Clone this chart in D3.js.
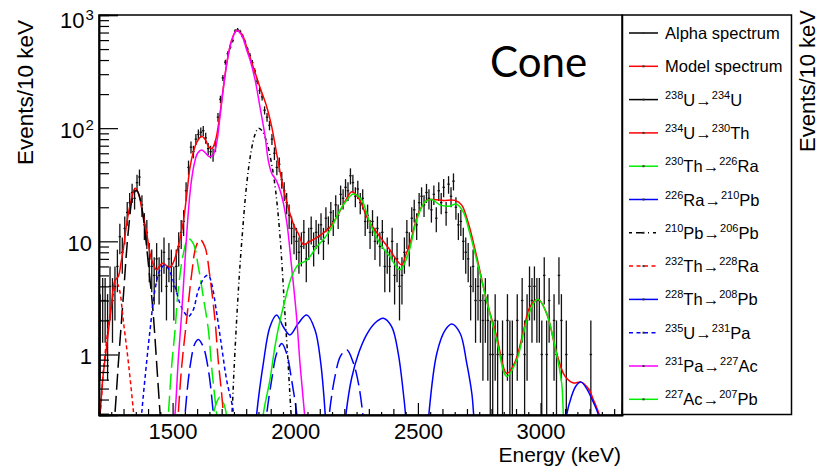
<!DOCTYPE html>
<html>
<head>
<meta charset="utf-8">
<script src="https://cdn.jsdelivr.net/npm/d3@7"></script>
<style>
  html, body { margin: 0; padding: 0; background: #fff; }
  svg { display: block; font-family: "Liberation Sans", Arial, sans-serif; }
</style>
</head>
<body>
<svg id="chart" width="820" height="471"></svg>
<script>
// ---- Measured alpha spectrum: counts per 10 keV bin, first bin starts at 1200 keV ----
const binStart = 1200;
const binWidth = 10;
const counts = [
  2, 3, 3, 2, 4, 3, 4, 6, 11, 8,          // 1200
  13, 18, 22, 27, 24, 33, 37, 21, 14, 12,  // 1300
  7, 6, 5, 7, 5, 6, 8, 4, 7, 6,            // 1400
  4, 6, 9, 12, 15, 28, 45, 68, 62, 80,     // 1500
  88, 92, 95, 82, 66, 62, 58, 70, 125, 180,       // 1600
  278, 383, 456, 520, 595, 720, 740, 715, 650, 580, // 1700
  500, 440, 380, 320, 260, 215, 189, 144, 125, 106, // 1800
  80, 60, 45, 48, 35, 28, 22, 17, 13, 11,  // 1900
  10, 8, 9, 12, 7, 10, 13, 9, 12, 11,      // 2000
  14, 10, 16, 13, 18, 15, 21, 17, 26, 24,  // 2100
  30, 28, 38, 33, 25, 29, 22, 24, 15, 17,  // 2200
  12, 15, 10, 13, 9, 12, 6, 8, 6, 10,      // 2300
  5, 7, 4, 5, 8, 12, 9, 16, 19, 14,        // 2400
  22, 25, 21, 27, 24, 19, 26, 16, 28, 22,  // 2500
  30, 18, 32, 25, 34, 20, 14, 15, 10, 8,   // 2600
  7, 4, 6, 3, 4, 3, 2, 3, 2, 1,            // 2700
  1, 2, 1, 0, 1, 0, 2, 1, 1, 0,            // 2800
  2, 0, 3, 1, 2, 4, 3, 4, 3, 3,            // 2900
  1, 5, 1, 3, 0, 2, 1, 5, 2, 0,            // 3000
  1, 0, 0, 0, 0, 0, 0, 0, 0, 0,            // 3100
  1, 0, 0, 0, 0, 0, 0, 0, 0, 0             // 3200
];

// ---- Fitted model: [energy keV, events / 10 keV] ----
const modelTotal = [[1196,0.2],[1204,0.29],[1215,0.6],[1231,1.17],[1248,2.4],[1265,4.5],[1279,4.9],[1290,6.5],
  [1299,8.5],[1310,13],[1320,17.7],[1333,24],[1347,29.5],[1360,27],[1375,19],[1394,12],[1405,8.5],[1415,6.8],
  [1435,5.6],[1450,6.2],[1461,6.4],[1475,6.1],[1489,5.9],[1503,6.5],[1516,7.9],[1530,10.5],[1544,15],[1557,25],
  [1571,45],[1585,62],[1600,76],[1619,85],[1635,78],[1648,68],[1660,66],[1675,78],[1693,133],[1707,230],[1723,400],
  [1741,600],[1761,730],[1782,680],[1802,520],[1829,346],[1856,230],[1884,154],[1904,103],[1924,60],[1951,30],
  [1978,17.7],[2000,13],[2012,11.8],[2033,9.4],[2060,10],[2101,11.3],[2142,13.4],[2182,18.5],[2210,24],[2230,27.4],
  [2250,25.5],[2264,23],[2298,15.4],[2345,11],[2386,8.4],[2410,7],[2434,6.2],[2450,7.5],[2468,9.6],[2502,17.7],
  [2536,23],[2563,23.4],[2604,23],[2651,23],[2678,21],[2706,14.4],[2740,7.3],[2780,3.0],[2821,1.45],[2862,0.68],
  [2895,0.85],[2930,1.6],[2957,2.64],[2991,3.07],[3025,2.3],[3066,1.02],[3100,0.64],[3134,0.56],[3165,0.57],
  [3195,0.5],[3215,0.4],[3240,0.29],[3255,0.2]];

const u238 = [[[1258,0.2],[1265,0.3],[1279,0.84],[1299,3.2],[1320,12.6],[1340,26],[1353,28.3],[1367,24],
  [1381,16],[1401,6.4],[1421,2.3],[1435,0.84],[1449,0.3],[1455,0.2]]];
const u234 = [[[1517,0.2],[1523,0.3],[1537,0.78],[1557,2.0],[1578,5.2],[1595,8.9],[1612,10.4],[1632,8.9],
  [1652,4.9],[1673,2.0],[1686,0.89],[1700,0.45],[1707,0.3],[1713,0.2]]];
const th230 = [
  [[1477,0.2],[1483,0.3],[1496,0.78],[1510,1.64],[1523,3.7],[1544,7.8],[1564,10.6],[1584,9.6],[1605,5.96],
   [1625,3.24],[1646,1.64],[1659,0.78],[1673,0.4],[1680,0.29],[1686,0.2]],
  [[1660,0.2],[1666,0.29],[1680,0.38],[1693,0.42],[1706,0.38],[1720,0.29],[1726,0.2]]];
const ra226 = [
  [[1545,0.2],[1551,0.3],[1571,0.78],[1591,1.25],[1605,1.36],[1625,1.17],[1646,0.73],[1666,0.3],[1672,0.2]],
  [[1878,0.2],[1884,0.3],[1904,0.6],[1924,1.02],[1945,1.25],[1965,1.02],[1985,0.6],[2006,0.3],[2012,0.2]],
  [[2133,0.2],[2139,0.3],[2162,0.64],[2185,0.97],[2210,1.1],[2237,0.84],[2258,0.55],[2275,0.3],[2281,0.2]]];
const pb210 = [[[1735,0.2],[1742,0.3],[1750,0.7],[1761,2.0],[1772,5],[1782,10],[1802,32],[1820,62],[1836,88],
  [1850,100],[1865,95],[1884,75],[1904,48],[1920,28],[1938,11],[1958,2.3],[1970,0.9],[1978,0.45],[1985,0.25]]];
const th232 = [[[1196,0.25],[1204,0.3],[1220,0.8],[1240,1.9],[1260,3.5],[1275,4.2],[1285,3.6],[1299,2.0],
  [1320,0.84],[1340,0.32],[1348,0.2]]];
const th228 = [
  [[1837,0.2],[1843,0.3],[1870,0.84],[1897,1.76],[1924,2.23],[1951,1.76],[1978,1.49],[2012,1.88],[2047,2.23],
   [2081,1.64],[2104,0.84],[2116,0.45],[2122,0.3],[2128,0.2]],
  [[2200,0.2],[2207,0.3],[2230,0.62],[2260,1.05],[2291,1.5],[2325,1.9],[2359,2.09],[2393,1.76],[2420,1.02],
   [2441,0.45],[2450,0.29],[2456,0.2]],
  [[2540,0.2],[2545,0.3],[2577,1.02],[2611,1.64],[2638,1.86],[2672,1.54],[2699,0.84],[2720,0.45],[2727,0.3],[2733,0.2]],
  [[3100,0.2],[3106,0.29],[3125,0.42],[3145,0.53],[3165,0.57],[3188,0.5],[3210,0.4],[3236,0.29],[3242,0.2]]];
const u235 = [[[1368,0.2],[1374,0.3],[1387,0.6],[1408,1.64],[1428,3.7],[1449,5.6],[1469,6.2],[1489,5.4],
  [1510,3.96],[1530,2.83],[1551,2.3],[1564,2.16],[1584,2.47],[1605,3.7],[1632,4.86],[1646,5.0],[1659,4.25],
  [1680,2.3],[1700,1.17],[1720,0.6],[1747,0.32],[1755,0.2]]];
const pa231 = [[[1500,0.2],[1510,0.3],[1523,0.89],[1537,2.3],[1551,7],[1564,18],[1575,32],[1588,48],[1602,60],
  [1619,64],[1635,60],[1650,56],[1665,58],[1680,75],[1693,125],[1707,225],[1723,395],[1741,595],[1761,730],
  [1782,660],[1802,490],[1816,400],[1836,270],[1856,155],[1877,85],[1890,52],[1904,40],[1924,34],[1945,25],
  [1965,15],[1985,6],[2005,2.2],[2020,0.8],[2035,0.35],[2045,0.2]]];
const ac227 = [[[1864,0.2],[1870,0.3],[1897,0.6],[1917,1.17],[1938,2.0],[1958,3.0],[1985,4.86],[2012,6.2],
  [2047,6.8],[2087,8.9],[2128,11.3],[2150,13.5],[2182,18.8],[2210,23.1],[2237,26.2],[2271,23.1],[2305,14.4],
  [2345,9.6],[2386,7.3],[2427,5.6],[2461,7.8],[2495,15.4],[2529,22.3],[2556,23.4],[2590,21],[2624,20.4],
  [2658,21.3],[2685,18.2],[2712,11.7],[2740,6.8],[2780,3.0],[2821,1.34],[2862,0.64],[2903,0.89],[2937,1.76],
  [2971,2.83],[2991,3.07],[3025,2.3],[3059,1.17],[3086,0.56],[3093,0.29],[3098,0.2]]];

// ---- Axis ticks ----
const xLabelTicks = [1500, 2000, 2500, 3000];
const yLabelTicks = [1, 10, 100, 1000];

// ---- Legend entries ----
const legendItems = [
  {label: [["Alpha spectrum"]], color: "#000", dash: null},
  {label: [["Model spectrum"]], color: "#ff0000", dash: null},
  {label: [["238", 1], ["U"], ["\u2192"], ["234", 1], ["U"]], color: "#000", dash: null},
  {label: [["234", 1], ["U"], ["\u2192"], ["230", 1], ["Th"]], color: "#ff0000", dash: null},
  {label: [["230", 1], ["Th"], ["\u2192"], ["226", 1], ["Ra"]], color: "#00ee00", dash: null},
  {label: [["226", 1], ["Ra"], ["\u2192"], ["210", 1], ["Pb"]], color: "#0000ff", dash: null},
  {label: [["210", 1], ["Pb"], ["\u2192"], ["206", 1], ["Pb"]], color: "#000", dash: "3,4,8,4,1,4"},
  {label: [["232", 1], ["Th"], ["\u2192"], ["228", 1], ["Ra"]], color: "#ff0000", dash: "4,3.5"},
  {label: [["228", 1], ["Th"], ["\u2192"], ["208", 1], ["Pb"]], color: "#0000ff", dash: null},
  {label: [["235", 1], ["U"], ["\u2192"], ["231", 1], ["Pa"]], color: "#0000ff", dash: "4,3.5"},
  {label: [["231", 1], ["Pa"], ["\u2192"], ["227", 1], ["Ac"]], color: "#ff00ff", dash: null},
  {label: [["227", 1], ["Ac"], ["\u2192"], ["207", 1], ["Pb"]], color: "#00ee00", dash: null}
];

// ---- Layout ----
const svg = d3.select("#chart");
const plot = {left: 99, right: 622, top: 15, bottom: 415};

const x = d3.scaleLinear().domain([1200, 3332]).range([plot.left, plot.right]);
const y = d3.scaleLog().domain([0.292, 1000]).range([plot.bottom, plot.top]);
const yMin = y.domain()[0];

svg.append("defs").append("clipPath").attr("id", "plotClip")
  .append("rect").attr("x", plot.left).attr("y", plot.top)
  .attr("width", plot.right - plot.left).attr("height", plot.bottom - plot.top);

const g = svg.append("g").attr("clip-path", "url(#plotClip)");

// data points with Poisson error bars
const bins = counts.map((n, i) => ({e: binStart + (i + 0.5) * binWidth, n}))
  .filter(d => d.n > 0);
const pts = g.append("g").attr("stroke", "#111").attr("stroke-width", 1.3);
pts.selectAll("line.v").data(bins).join("line").attr("class", "v")
  .attr("x1", d => x(d.e)).attr("x2", d => x(d.e))
  .attr("y1", d => y(d.n + Math.sqrt(d.n)))
  .attr("y2", d => { const lo = d.n - Math.sqrt(d.n); return lo > yMin ? y(lo) : plot.bottom + 2; });
pts.selectAll("line.h").data(bins).join("line").attr("class", "h")
  .attr("x1", d => x(d.e - binWidth / 2)).attr("x2", d => x(d.e + binWidth / 2))
  .attr("y1", d => y(d.n)).attr("y2", d => y(d.n));

// model curves
const line = d3.line().x(d => x(d[0])).y(d => y(d[1])).curve(d3.curveCatmullRom.alpha(0.5));
const LONG = "16,6";
const components = [
  {segs: [modelTotal], color: "#ff0000", dash: null},
  {segs: u238, color: "#000", dash: LONG},
  {segs: u234, color: "#ff0000", dash: LONG},
  {segs: th230, color: "#00ee00", dash: LONG},
  {segs: ra226, color: "#0000ff", dash: LONG},
  {segs: pb210, color: "#000", dash: "4,3,1,3"},
  {segs: th232, color: "#ff0000", dash: "4,3"},
  {segs: th228, color: "#0000ff", dash: null},
  {segs: u235, color: "#0000ff", dash: "4,3"},
  {segs: pa231, color: "#ff00ff", dash: null},
  {segs: ac227, color: "#00ee00", dash: null}
];
components.forEach(c => {
  c.segs.forEach(s => {
    g.append("path").attr("d", line(s)).attr("fill", "none")
      .attr("stroke", c.color).attr("stroke-width", 1.5)
      .attr("stroke-dasharray", c.dash);
  });
});

// ---- Axes ----
const fontTick = 22;
// x axis: labelled ticks every 500 keV, then 100 and 50 keV ticks
const xAxisG = svg.append("g").attr("transform", `translate(0,${plot.bottom})`);
xAxisG.call(d3.axisBottom(x).tickValues(xLabelTicks).tickSize(-12).tickPadding(7).tickFormat(d3.format("d")));
const x100 = d3.range(1300, 3332, 100).filter(v => v % 500 !== 0);
const x50 = d3.range(1250, 3332, 100);
svg.append("g").attr("transform", `translate(0,${plot.bottom})`)
  .call(d3.axisBottom(x).tickValues(x100).tickSize(-6).tickFormat(""));
svg.append("g").attr("transform", `translate(0,${plot.bottom})`)
  .call(d3.axisBottom(x).tickValues(x50).tickSize(-3).tickFormat(""));

// y axis: decades plus 2..9 minor ticks
const yAxisG = svg.append("g").attr("transform", `translate(${plot.left},0)`);
yAxisG.call(d3.axisLeft(y).tickValues(yLabelTicks).tickSize(-19).tickFormat(""));
const yMinor = [];
[0.1, 1, 10, 100].forEach(dec => d3.range(2, 10).forEach(k => {
  const v = +(k * dec).toPrecision(3);
  if (v >= yMin && v <= 1000) yMinor.push(v);
}));
svg.append("g").attr("transform", `translate(${plot.left},0)`)
  .call(d3.axisLeft(y).tickValues(yMinor).tickSize(-10).tickFormat(""));

svg.selectAll(".domain").attr("stroke", "#000").attr("stroke-width", 1.5);
svg.selectAll(".tick line").attr("stroke", "#000").attr("stroke-width", 1.2);

// x tick labels
xAxisG.selectAll(".tick text").attr("font-size", fontTick).attr("fill", "#000")
  .attr("font-family", "Liberation Sans, Arial, sans-serif").attr("y", 8);

// y tick labels, powers of ten written as 10 with superscript
yLabelTicks.forEach(v => {
  const yy = y(v);
  const exp = Math.round(Math.log10(v));
  if (exp <= 1) {
    svg.append("text").attr("x", 92).attr("y", yy + 10).attr("text-anchor", "end")
      .attr("font-size", fontTick).text(String(v));
  } else {
    const t = svg.append("text").attr("x", 60).attr("y", exp === 3 ? yy + 13 : yy + 10)
      .attr("font-size", fontTick);
    t.append("tspan").text("10");
    t.append("tspan").attr("font-size", 15).attr("dy", -8).attr("dx", 1).text(String(exp));
  }
});

// frame
svg.append("rect").attr("x", plot.left).attr("y", plot.top)
  .attr("width", plot.right - plot.left).attr("height", plot.bottom - plot.top)
  .attr("fill", "none").attr("stroke", "#000").attr("stroke-width", 1.5);

// axis titles
svg.append("text").attr("x", 621).attr("y", 462).attr("text-anchor", "end")
  .attr("font-size", 21).text("Energy (keV)");
svg.append("text").attr("transform", "translate(33,20) rotate(-90)").attr("text-anchor", "end")
  .attr("font-size", 22.5).text("Events/10 keV");
svg.append("text").attr("transform", "translate(815,10) rotate(-90)").attr("text-anchor", "end")
  .attr("font-size", 22).text("Events/10 keV");

// sample label
svg.append("text").attr("x", 490).attr("y", 77).attr("font-family", "Lato, 'Open Sans', sans-serif")
  .attr("font-size", 42).text("Cone");

// ---- Legend ----
const lg = svg.append("g");
lg.append("rect").attr("x", 622.5).attr("y", 15).attr("width", 169).attr("height", 399.5)
  .attr("fill", "#fff").attr("stroke", "#000").attr("stroke-width", 1.5);
legendItems.forEach((it, i) => {
  const cy = 33 + i * 33.3;
  lg.append("line").attr("x1", 629).attr("x2", 658).attr("y1", cy).attr("y2", cy)
    .attr("stroke", it.color).attr("stroke-width", 1.5).attr("stroke-dasharray", it.dash);
  lg.append("rect").attr("x", 642.5).attr("y", cy - 1).attr("width", 2).attr("height", 2).attr("fill", "#333");
  const t = lg.append("text").attr("x", 665).attr("y", cy + 6).attr("font-size", 16.5);
  let raised = false;
  it.label.forEach(([s, sup]) => {
    const sp = t.append("tspan").text(s);
    if (sup) { sp.attr("font-size", 11).attr("dy", raised ? 0 : -7); raised = true; }
    else if (raised) { sp.attr("dy", 7); raised = false; }
  });
});
</script>
</body>
</html>
